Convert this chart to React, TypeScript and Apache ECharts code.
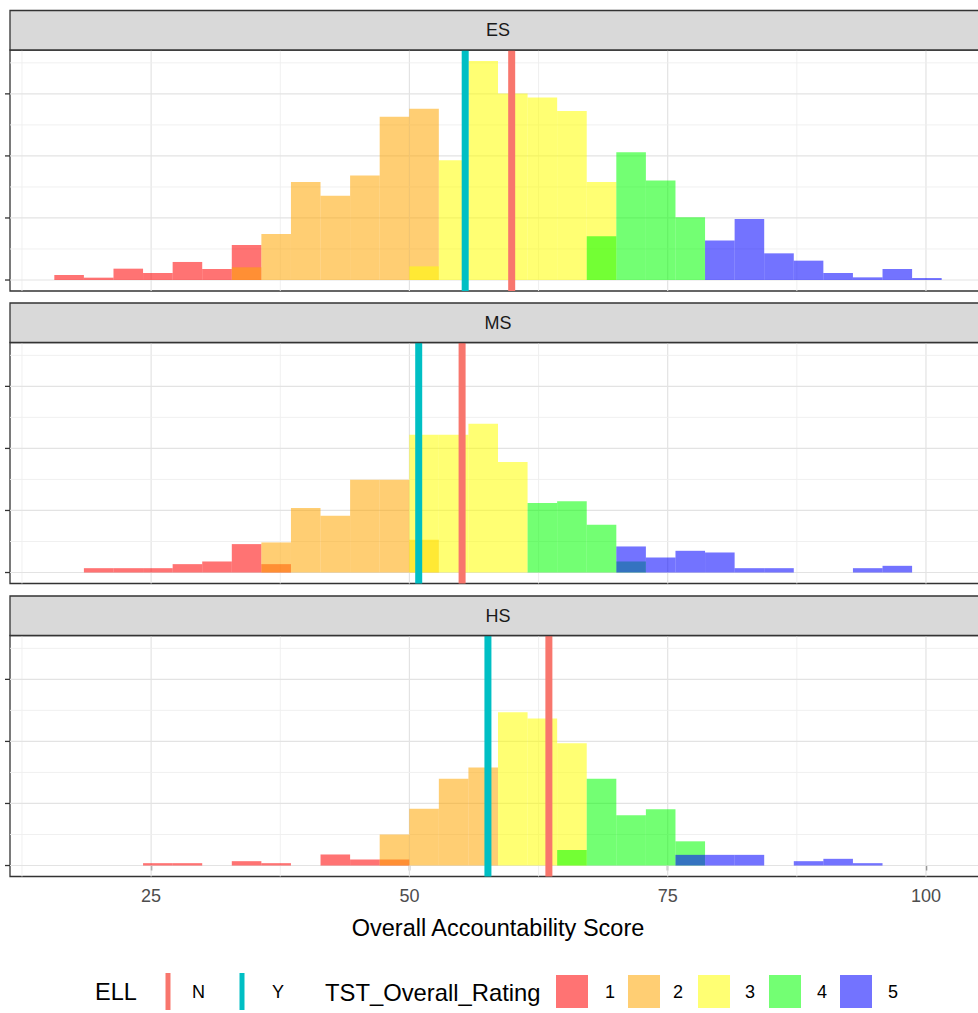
import React, { useEffect, useRef } from "react";
import * as echarts from "echarts";

// ---------- data ----------
const PANELS = ["ES", "MS", "HS"];
const RATINGS = ["1", "2", "3", "4", "5"];
const ELL_LEVELS = ["N", "Y"];
const X_AXIS_TITLE = "Overall Accountability Score";
const ELL_TITLE = "ELL";
const RATING_TITLE = "TST_Overall_Rating";

// histogram binning (30 bins shared by all panels)
const BIN_START = 15.63;
const BIN_WIDTH = 2.863;

const X_TICKS = [25, 50, 75, 100];
const X_GRID = [12.5, 25, 37.5, 50, 62.5, 75, 87.5, 100];
const Y_TICKS = [0, 10, 20, 30];
const Y_GRID = [0, 5, 10, 15, 20, 25, 30, 35];

// counts per bin, bins 0..29
const ES_R1 = [0.81, 0.38, 1.83, 1.13, 2.91, 1.78, 5.65, 0, 0, 0, 0, 0, 0, 0, 0, 0, 0, 0, 0, 0, 0, 0, 0, 0, 0, 0, 0, 0, 0, 0];
const ES_R2 = [0, 0, 0, 0, 0, 0, 2.05, 7.43, 15.8, 13.6, 16.85, 26.3, 27.6, 0, 0, 0, 0, 0, 0, 0, 0, 0, 0, 0, 0, 0, 0, 0, 0, 0];
const ES_R3 = [0, 0, 0, 0, 0, 0, 0, 0, 0, 0, 0, 0, 2.2, 19.3, 35.3, 30.05, 29.4, 27.25, 15.8, 0, 0, 0, 0, 0, 0, 0, 0, 0, 0, 0];
const ES_R4 = [0, 0, 0, 0, 0, 0, 0, 0, 0, 0, 0, 0, 0, 0, 0, 0, 0, 0, 7.05, 20.6, 16.05, 10.1, 0, 0, 0, 0, 0, 0, 0, 0];
const ES_R5 = [0, 0, 0, 0, 0, 0, 0, 0, 0, 0, 0, 0, 0, 0, 0, 0, 0, 0, 0, 0, 0, 0, 6.35, 9.85, 4.3, 3.12, 1.13, 0.43, 1.78, 0.32];

const MS_R1 = [0, 0.7, 0.7, 0.7, 1.35, 1.78, 4.58, 1.35, 0, 0, 0, 0, 0, 0, 0, 0, 0, 0, 0, 0, 0, 0, 0, 0, 0, 0, 0, 0, 0, 0];
const MS_R2 = [0, 0, 0, 0, 0, 0, 0, 4.85, 10.4, 9.15, 14.97, 14.97, 5.28, 0, 0, 0, 0, 0, 0, 0, 0, 0, 0, 0, 0, 0, 0, 0, 0, 0];
const MS_R3 = [0, 0, 0, 0, 0, 0, 0, 0, 0, 0, 0, 0, 22.2, 22.2, 23.96, 17.8, 0, 0, 0, 0, 0, 0, 0, 0, 0, 0, 0, 0, 0, 0];
const MS_R4 = [0, 0, 0, 0, 0, 0, 0, 0, 0, 0, 0, 0, 0, 0, 0, 0, 11.2, 11.5, 7.7, 1.78, 0, 0, 0, 0, 0, 0, 0, 0, 0, 0];
const MS_R5 = [0, 0, 0, 0, 0, 0, 0, 0, 0, 0, 0, 0, 0, 0, 0, 0, 0, 0, 0, 4.2, 2.42, 3.5, 3.23, 0.7, 0.7, 0, 0, 0.7, 1.08, 0];

const HS_R1 = [0, 0, 0, 0.38, 0.38, 0, 0.7, 0.38, 0, 1.78, 0.97, 0.97, 0, 0, 0, 0, 0, 0, 0, 0, 0, 0, 0, 0, 0, 0, 0, 0, 0, 0];
const HS_R2 = [0, 0, 0, 0, 0, 0, 0, 0, 0, 0, 0, 5.0, 9.15, 14.0, 15.8, 0, 0, 0, 0, 0, 0, 0, 0, 0, 0, 0, 0, 0, 0, 0];
const HS_R3 = [0, 0, 0, 0, 0, 0, 0, 0, 0, 0, 0, 0, 0, 0, 0, 24.7, 23.7, 19.7, 0, 0, 0, 0, 0, 0, 0, 0, 0, 0, 0, 0];
const HS_R4 = [0, 0, 0, 0, 0, 0, 0, 0, 0, 0, 0, 0, 0, 0, 0, 0, 0, 2.5, 14.0, 8.1, 9.05, 3.9, 0, 0, 0, 0, 0, 0, 0, 0];
const HS_R5 = [0, 0, 0, 0, 0, 0, 0, 0, 0, 0, 0, 0, 0, 0, 0, 0, 0, 0, 0, 0, 0, 1.72, 1.72, 1.72, 0, 0.7, 1.08, 0.38, 0, 0];

// mean score by ELL (N, Y) per panel
const ES_ELL = [59.9, 55.4];
const MS_ELL = [55.1, 50.9];
const HS_ELL = [63.5, 57.6];

// ---------- styling ----------
const PANEL_COUNTS = [
  [ES_R1, ES_R2, ES_R3, ES_R4, ES_R5],
  [MS_R1, MS_R2, MS_R3, MS_R4, MS_R5],
  [HS_R1, HS_R2, HS_R3, HS_R4, HS_R5],
];
const PANEL_ELL = [ES_ELL, MS_ELL, HS_ELL];

const RATING_COLORS = [
  "rgba(255,0,0,0.55)",
  "rgba(255,165,0,0.55)",
  "rgba(255,255,0,0.55)",
  "rgba(0,255,0,0.55)",
  "rgba(0,0,255,0.55)",
];
const ELL_COLORS = ["#F8766D", "#00BFC4"];

const FONT = "'Liberation Sans', Arial, sans-serif";
const X_MIN = 11.34;
const X_MAX = 105.81;
const Y_MIN = -1.77;
const Y_MAX = 37.07;

const CANVAS_W = 1000;
const CANVAS_H = 1013;
const GRID_LEFT = 10;
const GRID_WIDTH = 976;
const GRID_HEIGHT = 241;
const GRID_TOPS = [50, 342.5, 635.5];
const STRIP_H = 39.5;

export default function App() {
  const ref = useRef<HTMLDivElement>(null);

  useEffect(() => {
    if (!ref.current) return;
    const chart = echarts.init(ref.current, undefined, { renderer: "svg" });

    const grids = GRID_TOPS.map((top) => ({
      left: GRID_LEFT,
      top,
      width: GRID_WIDTH,
      height: GRID_HEIGHT,
      show: true,
      borderColor: "#333333",
      borderWidth: 1.3,
      backgroundColor: "#FFFFFF",
    }));

    const xAxes = PANELS.map((_, i) => {
      const bottom = i === PANELS.length - 1;
      return {
        type: "value",
        gridIndex: i,
        min: X_MIN,
        max: X_MAX,
        axisLine: { show: false },
        splitLine: { show: false },
        axisTick: bottom
          ? { show: true, customValues: X_TICKS, length: 5, lineStyle: { color: "#333333", width: 1.3 } }
          : { show: false },
        axisLabel: bottom
          ? { show: true, customValues: X_TICKS, fontSize: 18, color: "#4D4D4D", fontFamily: FONT, margin: 10 }
          : { show: false },
        name: bottom ? X_AXIS_TITLE : "",
        nameLocation: "middle",
        nameGap: 39,
        nameTextStyle: { fontSize: 23.5, color: "#000000", fontFamily: FONT },
      };
    });

    const yAxes = PANELS.map((_, i) => ({
      type: "value",
      gridIndex: i,
      min: Y_MIN,
      max: Y_MAX,
      axisLine: { show: false },
      axisTick: { show: false },
      axisLabel: { show: false },
      splitLine: { show: false },
    }));

    const series: any[] = [];
    PANELS.forEach((panel, i) => {
      // vertical grid lines
      series.push({
        type: "custom",
        name: panel + "-xgrid",
        xAxisIndex: i,
        yAxisIndex: i,
        silent: true,
        z: 1,
        encode: { x: 0, y: 1 },
        data: X_GRID.map((v) => [v, 0]),
        renderItem: (params: any, api: any) => {
          const v = api.value(0);
          const p0 = api.coord([v, Y_MIN]);
          const p1 = api.coord([v, Y_MAX]);
          const major = v % 25 === 0;
          return {
            type: "line",
            shape: { x1: p0[0], y1: p0[1], x2: p1[0], y2: p1[1] },
            style: { stroke: major ? "#E3E3E3" : "#EEEEEE", lineWidth: major ? 1.2 : 0.9 },
          };
        },
      });
      // horizontal grid lines
      series.push({
        type: "custom",
        name: panel + "-ygrid",
        xAxisIndex: i,
        yAxisIndex: i,
        silent: true,
        z: 1,
        encode: { x: 0, y: 1 },
        data: Y_GRID.map((v) => [X_MIN, v]),
        renderItem: (params: any, api: any) => {
          const v = api.value(1);
          const p0 = api.coord([X_MIN, v]);
          const p1 = api.coord([X_MAX, v]);
          const major = v % 10 === 0;
          return {
            type: "line",
            shape: { x1: p0[0], y1: p0[1], x2: p1[0], y2: p1[1] },
            style: { stroke: major ? "#E3E3E3" : "#EEEEEE", lineWidth: major ? 1.2 : 0.9 },
          };
        },
      });
      // y ticks (outside the panel)
      series.push({
        type: "custom",
        name: panel + "-yticks",
        xAxisIndex: i,
        yAxisIndex: i,
        silent: true,
        clip: false,
        z: 4,
        encode: { x: 0, y: 1 },
        data: Y_TICKS.map((v) => [X_MIN, v]),
        renderItem: (params: any, api: any) => {
          const p = api.coord([X_MIN, api.value(1)]);
          return {
            type: "line",
            shape: { x1: p[0] - 5, y1: p[1], x2: p[0], y2: p[1] },
            style: { stroke: "#333333", lineWidth: 1.3 },
          };
        },
      });
      // histogram bars per rating (overlapping, semi-transparent)
      PANEL_COUNTS[i].forEach((counts, r) => {
        const data = counts
          .map((c, k) => [BIN_START + k * BIN_WIDTH, BIN_START + (k + 1) * BIN_WIDTH, c])
          .filter((d) => d[2] > 0);
        series.push({
          type: "custom",
          name: RATINGS[r],
          xAxisIndex: i,
          yAxisIndex: i,
          z: 2 + r * 0.01,
          encode: { x: [0, 1], y: 2 },
          data,
          renderItem: (params: any, api: any) => {
            const x0 = api.value(0);
            const x1 = api.value(1);
            const y = api.value(2);
            const pTop = api.coord([x0, y]);
            const pBot = api.coord([x1, 0]);
            return {
              type: "rect",
              shape: { x: pTop[0], y: pTop[1], width: pBot[0] - pTop[0], height: pBot[1] - pTop[1] },
              style: { fill: RATING_COLORS[r] },
            };
          },
        });
      });
      // ELL mean lines
      series.push({
        type: "custom",
        name: panel + "-ell",
        xAxisIndex: i,
        yAxisIndex: i,
        silent: true,
        z: 3,
        encode: { x: 0, y: 1 },
        data: PANEL_ELL[i].map((v, e) => [v, 0, e]),
        renderItem: (params: any, api: any) => {
          const v = api.value(0);
          const e = api.value(2);
          const p0 = api.coord([v, Y_MIN]);
          const p1 = api.coord([v, Y_MAX]);
          return {
            type: "line",
            shape: { x1: p0[0], y1: p0[1], x2: p1[0], y2: p1[1] },
            style: { stroke: ELL_COLORS[e], lineWidth: 7 },
          };
        },
      });
    });

    // strips
    const graphics: any[] = [];
    PANELS.forEach((panel, i) => {
      const top = GRID_TOPS[i] - STRIP_H;
      graphics.push({
        type: "rect",
        shape: { x: GRID_LEFT, y: top, width: GRID_WIDTH, height: STRIP_H },
        style: { fill: "#D9D9D9", stroke: "#333333", lineWidth: 1.3 },
        z: 10,
      });
      graphics.push({
        type: "text",
        x: GRID_LEFT + GRID_WIDTH / 2,
        y: top + STRIP_H / 2,
        style: {
          text: panel,
          fill: "#1A1A1A",
          fontSize: 18,
          fontFamily: FONT,
          align: "center",
          verticalAlign: "middle",
        },
        z: 11,
      });
    });

    // legend
    const LEG_Y = 992;
    graphics.push({
      type: "text",
      x: 95,
      y: LEG_Y,
      style: { text: ELL_TITLE, fill: "#000000", fontSize: 23.5, fontFamily: FONT, verticalAlign: "middle" },
    });
    const ellKeyX = [165.5, 239.5];
    const ellLabX = [192, 272];
    ELL_LEVELS.forEach((lv, e) => {
      graphics.push({
        type: "rect",
        shape: { x: ellKeyX[e], y: 973, width: 5, height: 37 },
        style: { fill: ELL_COLORS[e] },
      });
      graphics.push({
        type: "text",
        x: ellLabX[e],
        y: LEG_Y,
        style: { text: lv, fill: "#000000", fontSize: 18, fontFamily: FONT, verticalAlign: "middle" },
      });
    });
    graphics.push({
      type: "text",
      x: 325,
      y: LEG_Y,
      style: { text: RATING_TITLE, fill: "#000000", fontSize: 23.8, fontFamily: FONT, verticalAlign: "middle" },
    });
    const sqX = [556, 628, 698, 769, 840];
    const sqLabX = [605, 673, 745, 817, 888];
    RATINGS.forEach((r, k) => {
      graphics.push({
        type: "rect",
        shape: { x: sqX[k], y: 975, width: 32, height: 33 },
        style: { fill: RATING_COLORS[k] },
      });
      graphics.push({
        type: "text",
        x: sqLabX[k],
        y: LEG_Y,
        style: { text: r, fill: "#000000", fontSize: 18, fontFamily: FONT, verticalAlign: "middle" },
      });
    });

    chart.setOption({
      animation: false,
      backgroundColor: "#FFFFFF",
      textStyle: { fontFamily: FONT },
      grid: grids,
      xAxis: xAxes,
      yAxis: yAxes,
      series,
      graphic: graphics,
    });

    return () => chart.dispose();
  }, []);

  return (
    <div
      ref={ref}
      style={{ position: "fixed", left: 0, top: 0, width: CANVAS_W, height: CANVAS_H, background: "#FFFFFF" }}
    />
  );
}
